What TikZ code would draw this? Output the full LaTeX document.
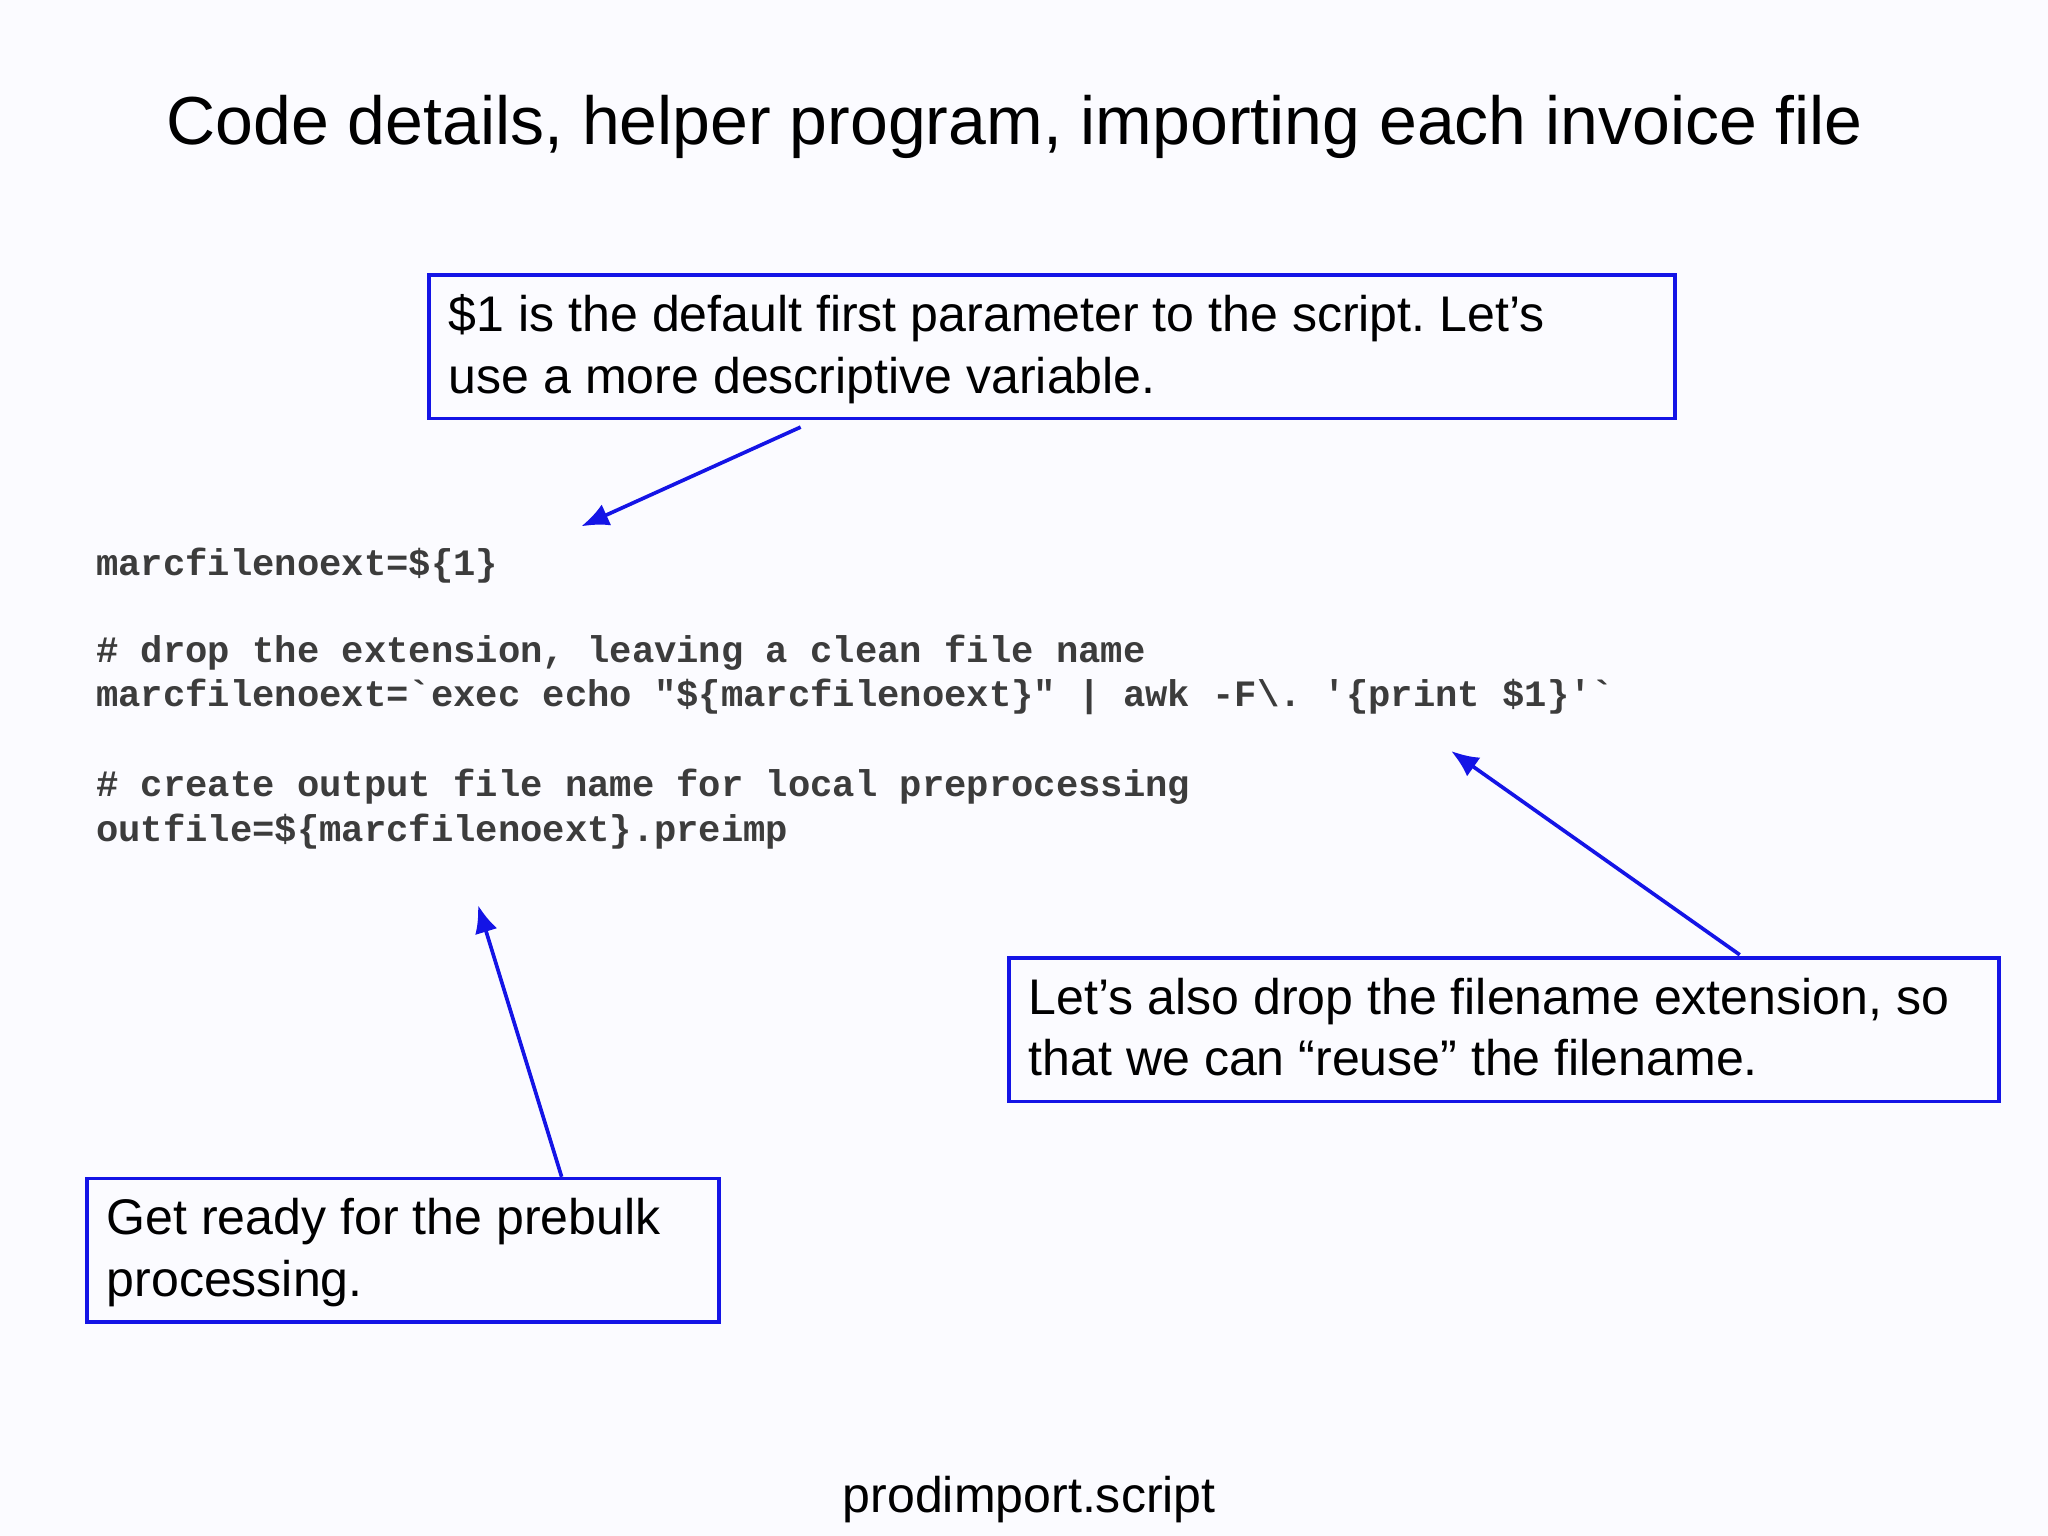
\documentclass[tikz,border=0pt]{standalone}
\usepackage{fontspec}
\setmainfont{Liberation Sans}
\newfontfamily\codefont{Liberation Mono}
\usetikzlibrary{arrows.meta}
\definecolor{bl}{RGB}{20,20,230}
\definecolor{codegray}{RGB}{60,60,60}
\frenchspacing
\begin{document}
\begin{tikzpicture}[x=0.01cm,y=-0.01cm,
  box/.style={draw=bl,line width=0.8pt,anchor=north west,inner sep=0pt,minimum height=110*0.01cm},
  boxtext/.style={anchor=north west,inner sep=0pt,align=left,font=\fontsize{10.9}{13.4}\selectfont},
  code/.style={anchor=base west,inner sep=0pt,font=\codefont\bfseries\fontsize{8.1}{9.6}\selectfont,text=codegray},
  arr/.style={draw=bl,line width=0.8pt,-{Latex[length=6pt,width=5pt]}}]
\fill[white!97!blue!50!white] (0,0) rectangle (1568,1176);
\useasboundingbox (0,0) rectangle (1568,1176);
\node[font=\fontsize{14.8}{17}\selectfont] (title) at (777,97) {Code details, helper program, importing each invoice file};
\node[box,minimum width=954*0.01cm] (b1) at (327,209) {};
\node[boxtext] (t1) at (343,225) {\$1 is the default first parameter to the script. Let’s\\use a more descriptive variable.};
\node[box,minimum width=758*0.01cm] (b2) at (771,732) {};
\node[boxtext] (t2) at (787,748) {Let’s also drop the filename extension, so\\that we can “reuse” the filename.};
\node[box,minimum width=484*0.01cm] (b3) at (65,901) {};
\node[boxtext] (t3) at (81,917) {Get ready for the prebulk\\processing.};
\node[code] (c1) at (73,441) {marcfilenoext=\$\{1\}};
\node[code] (c2) at (73,507) {\# drop the extension, leaving a clean file name};
\node[code] (c3) at (73,541) {marcfilenoext=`exec echo "\$\{marcfilenoext\}" | awk -F\textbackslash. '\{print \$1\}'`};
\node[code] (c4) at (73,610) {\# create output file name for local preprocessing};
\node[code] (c5) at (73,644) {outfile=\$\{marcfilenoext\}.preimp};
\node[font=\fontsize{10.9}{13}\selectfont] (foot) at (788,1148) {prodimport.script};
\coordinate (s1) at (613,327); \coordinate (e1) at (445,403);
\coordinate (s2) at (1332,731); \coordinate (e2) at (1111,575);
\coordinate (s3) at (430,901); \coordinate (e3) at (366,693);
\draw[arr] (s1) -- (e1);
\draw[arr] (s2) -- (e2);
\draw[arr] (s3) -- (e3);
\end{tikzpicture}
\end{document}
